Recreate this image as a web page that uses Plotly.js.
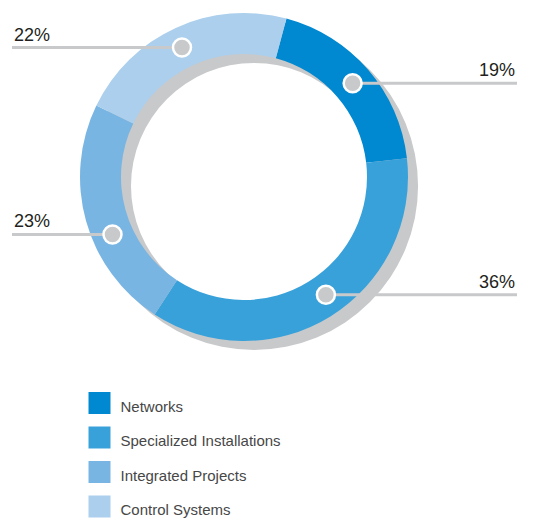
<!DOCTYPE html>
<html><head><meta charset="utf-8">
<script src="https://cdn.plot.ly/plotly-3.0.1.min.js"></script>
<style>html,body{margin:0;padding:0;background:#fff;}#chart{width:533px;height:522px;}</style>
</head><body><div id="chart"></div>
<script>
// ---- data ----
const categories = ['Networks', 'Specialized Installations', 'Integrated Projects', 'Control Systems'];
const shares = [19, 36, 23, 22];
const shareLabels = ['19%', '36%', '23%', '22%'];
const colors = ['#0088d0', '#38a1da', '#79b5e3', '#abcfec'];

// ---- layout constants ----
const W = 533, H = 522;
const cx = 244, cy = 177, R = 164, hole = 0.75;
const rotation = 15;
const shadowDx = 10, shadowDy = 9;
const grey = '#c8c9cb';
const labelAngleNudge = [0, -3, -8, -1];
const leftEdge = 12, rightEdge = 517;

function dom(dx, dy) {
  return { x: [(cx + dx - R) / W, (cx + dx + R) / W], y: [1 - (cy + dy + R) / H, 1 - (cy + dy - R) / H] };
}

const total = shares.reduce((a, b) => a + b, 0);
const rMid = R * (1 + hole) / 2;
let cum = 0;
const shapes = [], circles = [], annotations = [];
shares.forEach((v, i) => {
  const deg = rotation + (cum + v / 2) / total * 360 + labelAngleNudge[i];
  cum += v;
  const a = deg * Math.PI / 180;
  const x = cx + rMid * Math.sin(a), y = cy - rMid * Math.cos(a);
  const left = x < cx;
  const ex = left ? leftEdge : rightEdge;
  shapes.push({ type: 'line', xref: 'x', yref: 'y', layer: 'above', x0: ex, x1: x, y0: y, y1: y,
    line: { color: grey, width: 3 } });
  circles.push({ type: 'circle', xref: 'x', yref: 'y', layer: 'above', x0: x - 9, x1: x + 9, y0: y - 9, y1: y + 9,
    fillcolor: grey, line: { color: '#ffffff', width: 2.5 } });
  annotations.push({ xref: 'x', yref: 'y', x: ex, y: y - 1, text: shareLabels[i], showarrow: false,
    xanchor: left ? 'left' : 'right', yanchor: 'bottom',
    font: { family: 'Liberation Sans, Arial', size: 18, color: '#231f20' } });
});

const legX = 99.5, legY0 = 403, legStep = 34.5;
const legYs = categories.map((c, i) => legY0 + i * legStep);

const traces = [
  { type: 'pie', values: [1], marker: { colors: [grey] }, hole: hole, sort: false, textinfo: 'none',
    hoverinfo: 'skip', domain: dom(shadowDx, shadowDy), showlegend: false },
  { type: 'pie', values: shares, labels: categories, marker: { colors: colors, line: { width: 0 } }, hole: hole,
    sort: false, direction: 'clockwise', rotation: rotation, textinfo: 'none', domain: dom(0, 0), showlegend: false },
  { type: 'scatter', mode: 'markers', x: categories.map(() => legX), y: legYs,
    marker: { symbol: 'square', size: 22, color: colors, line: { width: 0 } }, showlegend: false, hoverinfo: 'skip' },
  { type: 'scatter', mode: 'text', x: categories.map(() => legX + 21), y: legYs.map(v => v + 5), text: categories,
    textposition: 'middle right', textfont: { family: 'Liberation Sans, Arial', size: 15, color: '#474747' },
    showlegend: false, hoverinfo: 'skip' }
];

const layout = {
  width: W, height: H, margin: { l: 0, r: 0, t: 0, b: 0 },
  paper_bgcolor: '#ffffff', plot_bgcolor: 'rgba(0,0,0,0)', showlegend: false,
  xaxis: { range: [0, W], visible: false, fixedrange: true },
  yaxis: { range: [H, 0], visible: false, fixedrange: true },
  shapes: shapes.concat(circles), annotations: annotations
};
Plotly.newPlot('chart', traces, layout, { staticPlot: true });
</script></body></html>
